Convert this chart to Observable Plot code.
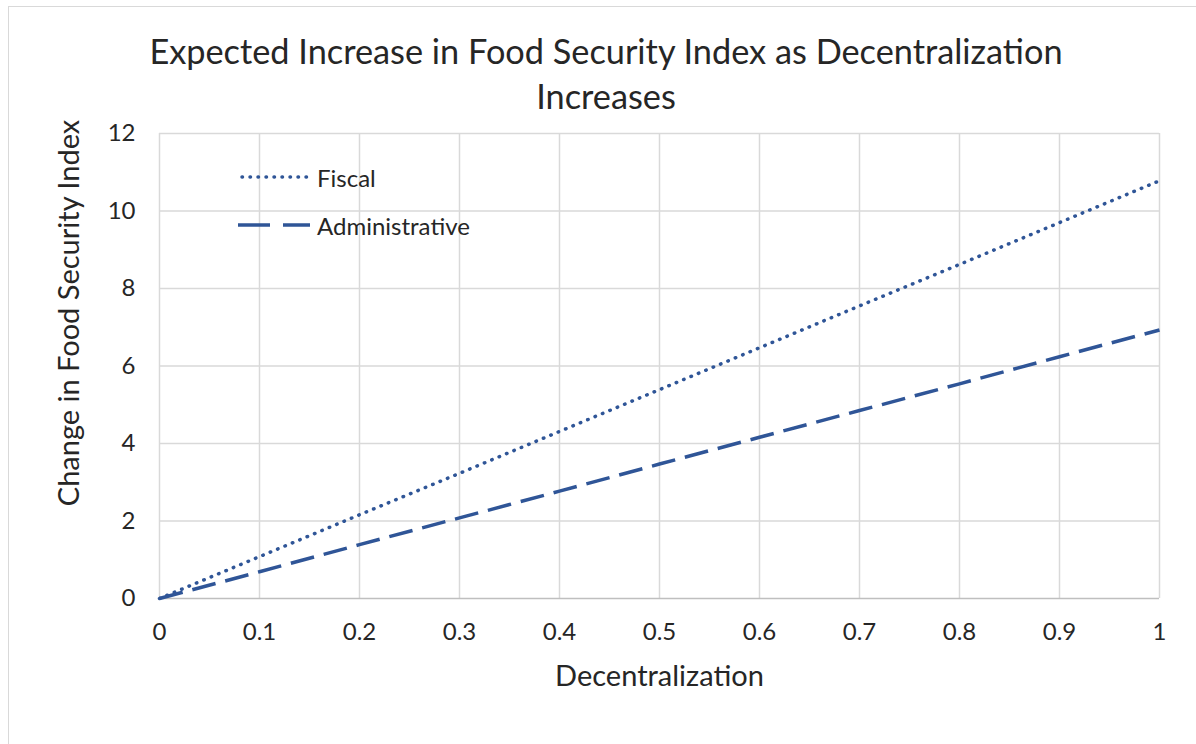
<!DOCTYPE html>
<html><head><meta charset="utf-8">
<script src="https://cdn.jsdelivr.net/npm/d3@7"></script>
<script src="https://cdn.jsdelivr.net/npm/@observablehq/plot@0.6"></script>
<style>
body{margin:0;background:#fff;font-family:Lato,"Open Sans",sans-serif;overflow:hidden;}
#box{position:absolute;left:8px;top:6px;width:1196px;height:800px;border:1.5px solid #d9d9d9;box-sizing:border-box;}
#title{position:absolute;left:8px;top:28px;width:1196px;text-align:center;font-size:34.3px;line-height:45px;color:#262626;}
#chart{position:absolute;left:8px;top:6px;width:1196px;}
#chart svg{max-width:none !important;}
#ylabel{position:absolute;left:67px;top:313px;transform:translate(-50%,-50%) rotate(-90deg);white-space:nowrap;font-size:29px;color:#262626;}
#legend{position:absolute;left:238px;top:153px;font-size:24px;color:#262626;}
#legend div{height:48px;display:flex;align-items:center;}
</style></head>
<body>
<div id="box"></div>
<div id="chart"></div>
<div id="title">Expected Increase in Food Security Index as Decentralization<br>Increases</div>
<div id="ylabel">Change in Food Security Index</div>
<div id="legend"></div>
<script>
const xValues = [0, 0.1, 0.2, 0.3, 0.4, 0.5, 0.6, 0.7, 0.8, 0.9, 1];
const fiscal = [0, 1.08, 2.16, 3.23, 4.31, 5.39, 6.47, 7.55, 8.62, 9.70, 10.78];
const administrative = [0, 0.69, 1.39, 2.08, 2.77, 3.47, 4.16, 4.85, 5.54, 6.24, 6.93];
const xTicks = [0, 0.1, 0.2, 0.3, 0.4, 0.5, 0.6, 0.7, 0.8, 0.9, 1];
const yTicks = [0, 2, 4, 6, 8, 10, 12];
const seriesNames = ["Fiscal", "Administrative"];

const color = "#2f5597";
const dashes = {Fiscal: "0.5 7.5", Administrative: "24 10"};
const data = [];
xValues.forEach((x, i) => {
  data.push({x, y: fiscal[i], s: "Fiscal"});
  data.push({x, y: administrative[i], s: "Administrative"});
});

const W = 1196, H = 738;
const plot = Plot.plot({
  width: W, height: H,
  marginLeft: 151, marginRight: 45, marginTop: 127, marginBottom: H - 592,
  style: {fontFamily: "Lato, 'Open Sans', sans-serif", fontSize: "24px", color: "#262626", background: "transparent", overflow: "visible", maxWidth: "none"},
  x: {domain: [0, 1], ticks: xTicks, tickFormat: d => String(d), label: null},
  y: {domain: [0, 12], ticks: yTicks, label: null},
  marks: [
    Plot.gridX(xTicks, {stroke: "#d9d9d9", strokeOpacity: 1, strokeWidth: 1.5}),
    Plot.gridY(yTicks.filter(d => d > 0), {stroke: "#d9d9d9", strokeOpacity: 1, strokeWidth: 1.5}),
    Plot.ruleY([0], {stroke: "#bfbfbf", strokeWidth: 1.5}),
    Plot.axisX({ticks: xTicks, tickSize: 0, tickPadding: 24, fontSize: 24, tickFormat: d => String(d), label: null}),
    Plot.axisY({ticks: yTicks, tickSize: 0, tickPadding: 24, fontSize: 24, label: null}),
    ...seriesNames.map(name => Plot.line(data.filter(d => d.s === name), {
      x: "x", y: "y", stroke: color, strokeWidth: 3.5,
      strokeDasharray: dashes[name], strokeLinecap: name === "Fiscal" ? "round" : "butt"
    })),
    Plot.text(["Decentralization"], {frameAnchor: "bottom", dy: 87, fontSize: 29, fill: "#262626"})
  ]
});
document.getElementById("chart").appendChild(plot);

const legend = document.getElementById("legend");
seriesNames.forEach(name => {
  const row = document.createElement("div");
  row.innerHTML = `<svg width="78" height="10" style="margin-right:1px"><line x1="${name==='Fiscal'?4:0}" y1="5" x2="72" y2="5" stroke="${color}" stroke-width="3.5" stroke-dasharray="${name==='Fiscal'?'0.5 7.5':'32 13'}" stroke-linecap="${name==='Fiscal'?'round':'butt'}"/></svg><span>${name}</span>`;
  legend.appendChild(row);
});
</script>
</body></html>
